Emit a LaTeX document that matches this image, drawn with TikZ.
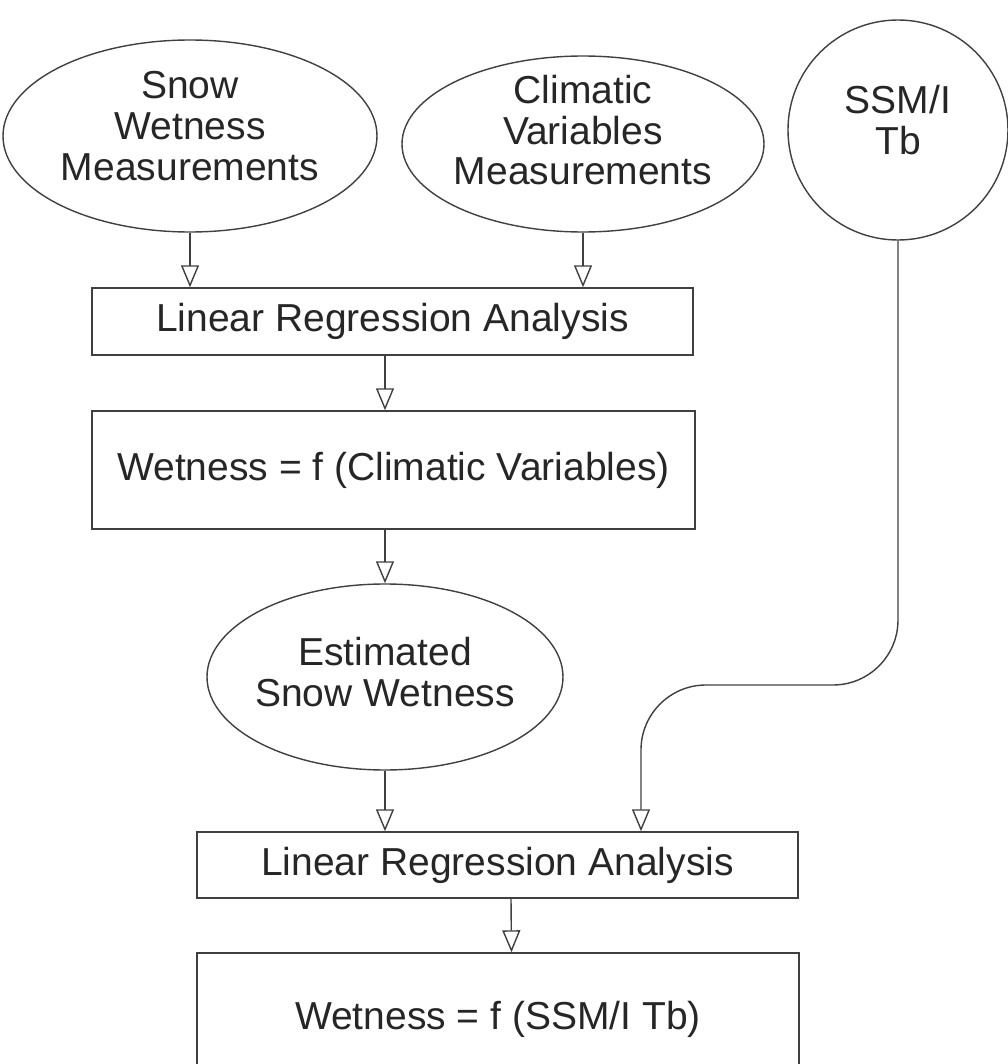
\documentclass[tikz,border=0pt]{standalone}
\usepackage{fontspec}
\setmainfont{Liberation Sans}
\usetikzlibrary{shapes.geometric,arrows.meta}

\begin{document}
\begin{tikzpicture}[
  every node/.style={font=\fontsize{11.1pt}{11.6pt}\selectfont, text=black!85, align=center, inner sep=0pt},
  oval/.style={ellipse, draw=black!75, line width=0.4pt, inner sep=-1mm},
  box/.style={rectangle, draw=black!75, line width=0.4pt},
  flow/.style={draw=black!75, line width=0.4pt, -{Triangle[open,length=2.2mm,width=1.8mm]}}
]
\useasboundingbox (0,0) rectangle (10.08,10.64);

%inputs along the top
\node[oval, minimum width=3.74cm, minimum height=1.92cm, text depth=0.2cm] (snow) at (1.90,9.28) {Snow\\Wetness\\Measurements};
\node[oval, minimum width=3.62cm, minimum height=1.76cm, text depth=0.28cm] (clim) at (5.83,9.20) {Climatic\\Variables\\Measurements};
\node[draw=black!75, line width=0.4pt, circle, minimum size=2.20cm, text depth=0.2cm] (ssm) at (8.98,9.34) {SSM/I\\Tb};

\node[box, minimum width=6.01cm, minimum height=0.67cm] (lra1) at (3.925,7.425) {Linear Regression Analysis};
\node[box, minimum width=6.03cm, minimum height=1.18cm] (fcl) at (3.935,5.94) {Wetness = f (Climatic Variables)};
\node[oval, minimum width=3.56cm, minimum height=1.86cm, text depth=0.1cm] (est) at (3.85,3.87) {Estimated\\Snow Wetness};
\node[box, minimum width=6.01cm, minimum height=0.66cm] (lra2) at (4.975,1.99) {Linear Regression Analysis};
%bottom box runs off the page
\node[box, minimum width=6.02cm, minimum height=1.32cm] (fssm) at (4.98,0.45) {Wetness = f (SSM/I Tb)};

\draw[flow] (snow.south) -- (snow.south |- lra1.north);
\draw[flow] (clim.south) -- (clim.south |- lra1.north);
\draw[flow] (lra1.south -| est) -- (fcl.north -| est);
\draw[flow] (fcl.south -| est) -- (est.north);
\draw[flow] (est.south) -- (est.south |- lra2.north);
\draw[flow] ([xshift=1.35mm]lra2.south) -- ([xshift=1.35mm]fssm.north);

%Tb comes down the right side
\coordinate (bend) at (6.41,3.79);
\draw[flow, rounded corners=6.5mm] (ssm.south) |- (bend) -- (bend |- lra2.north);

\end{tikzpicture}
\end{document}
